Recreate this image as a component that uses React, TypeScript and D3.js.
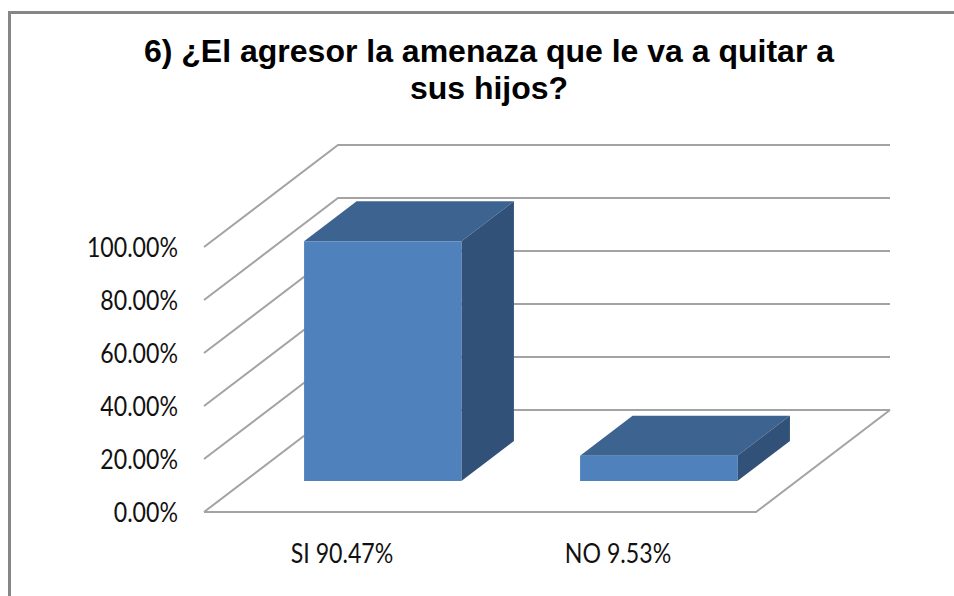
import React from "react";
import * as d3 from "d3";

const categories = ["SI 90.47%", "NO 9.53%"];
const seriesValues = [90.47, 9.53];
const tickValues = [0, 20, 40, 60, 80, 100];
const titleLines = ["6) ¿El agresor la amenaza que le va a quitar a", "sus hijos?"];

const x = d3.scaleBand<string>().domain(categories).range([204, 756]).paddingInner(0.43).paddingOuter(0.215);
const y = d3.scaleLinear().domain([0, 100]).range([512, 247]);
const depth = d3.scaleLinear().domain([0, 1]).range([0, 134]);
const rise = d3.scaleLinear().domain([0, 1]).range([0, 102]);
const fmt = (v: number) => v.toFixed(2) + "%";
const pt = (px: number, v: number, z: number): [number, number] => [px + depth(z), y(v) - rise(z)];
const path = d3.line();
const poly = (pts: [number, number][]) => path(pts) + "Z";
const GRID = "#a3a3a3";
const zFront = 0.304;
const zBack = 0.696;
const SQUEEZE = 0.89;

export default function App() {
  const bw = x.bandwidth();
  return (
    <svg width={954} height={596} style={{ position: "absolute", left: 0, top: 0, background: "#fff" }}>
      <path d="M9.5 596V12.5H954" fill="none" stroke="#868686" strokeWidth={3} />
      {titleLines.map((t, i) => (
        <text key={t} x={489} y={62 + i * 37} textAnchor="middle" fontFamily="Liberation Sans" fontWeight="bold" fontSize={32} fill="#000">{t}</text>
      ))}
      {tickValues.map((v) => (
        <g key={v}>
          <path d={path([pt(204, v, 0), pt(204, v, 1), pt(756, v, 1)]) as string} fill="none" stroke={GRID} strokeWidth={2} />
          <text transform={`translate(178,${y(v) + 9.5}) scale(${SQUEEZE},1)`} textAnchor="end" fontFamily="Lato" fontSize={26} fill="#111">{fmt(v)}</text>
        </g>
      ))}
      <path d={path([pt(204, 0, 0), pt(756, 0, 0), pt(756, 0, 1)]) as string} fill="none" stroke={GRID} strokeWidth={2} />
      {categories.map((c, i) => {
        const x0 = x(c) as number;
        const x1 = x0 + bw;
        const v = seriesValues[i];
        return (
          <g key={c}>
            <path d={poly([pt(x0, v, zFront), pt(x0, v, zBack), pt(x1, v, zBack), pt(x1, v, zFront)])} fill="#3d6491" />
            <path d={poly([pt(x1, 0, zFront), pt(x1, v, zFront), pt(x1, v, zBack), pt(x1, 0, zBack)])} fill="#325179" />
            <path d={poly([pt(x0, 0, zFront), pt(x0, v, zFront), pt(x1, v, zFront), pt(x1, 0, zFront)])} fill="#4f81bd" />
            <text transform={`translate(${x0 + bw / 2},563) scale(${SQUEEZE},1)`} textAnchor="middle" fontFamily="Lato" fontSize={26} fill="#111">{c}</text>
          </g>
        );
      })}
    </svg>
  );
}
